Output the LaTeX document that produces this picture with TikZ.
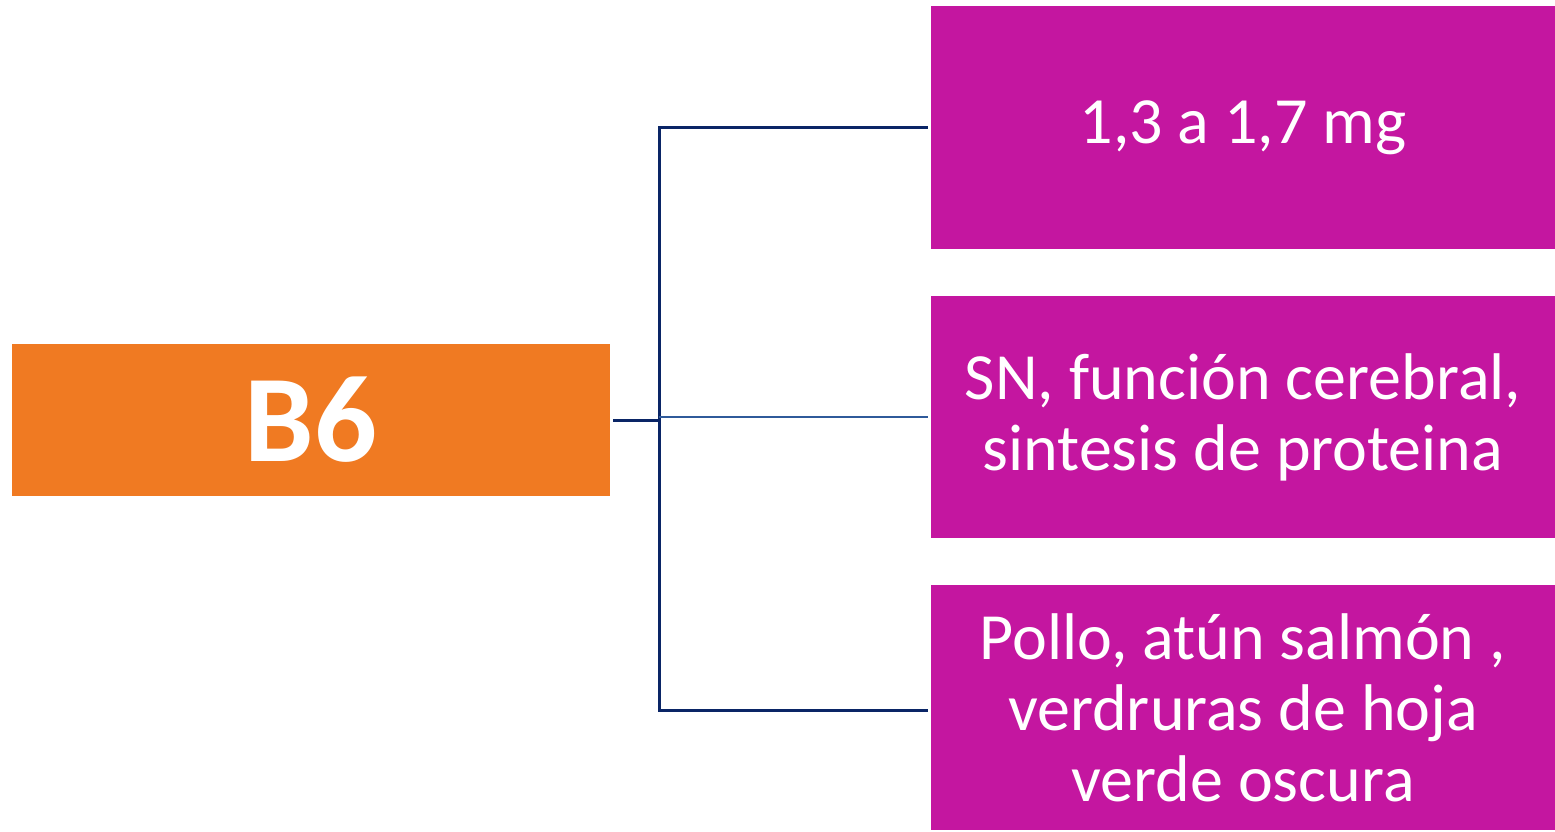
\documentclass[tikz,border=0pt]{standalone}
\usepackage{fontspec}
\setmainfont{Carlito}
\usetikzlibrary{positioning}
\definecolor{vorange}{HTML}{F07A22}
\definecolor{vmagenta}{HTML}{C416A0}
\definecolor{vnavy}{HTML}{0A2566}
\definecolor{vblue}{HTML}{2F5A9A}
\begin{document}
\begin{tikzpicture}[x=1pt,y=-1pt,
  vit/.style={fill=vorange,text=white,inner sep=0pt,minimum width=598pt,minimum height=152pt,font=\fontsize{124}{130}\selectfont\bfseries},
  dato/.style={fill=vmagenta,text=white,inner sep=0pt,minimum width=624pt,align=center,font=\fontsize{66}{71}\selectfont},
  rama/.style={vnavy,line width=3pt},
  ramafina/.style={vblue,line width=1.8pt}]
\useasboundingbox (0,0) rectangle (1555,831);
\node[vit] (b6) at (311,420) {B6};
\node[dato,minimum height=243pt] (dosis) at (1243,127.5) {1,3 a 1,7 mg};
\node[dato,minimum height=242pt] (funcion) at (1243,417) {SN, función cerebral,\\sintesis de proteina};
\node[dato,minimum height=245pt] (fuentes) at (1243,707.5) {Pollo, atún salmón ,\\ verdruras de hoja\\verde oscura};
\coordinate (hub) at (659,420);
% ramas
\draw[rama,shorten <=3pt] (b6.east) -- (hub);
\draw[rama,shorten <=3pt,shorten >=3pt] (dosis.west) -| (hub) |- ([yshift=-2.5pt]fuentes.west);
\draw[ramafina,shorten >=3pt] (hub |- funcion.west) -- (funcion.west);
\end{tikzpicture}
\end{document}
